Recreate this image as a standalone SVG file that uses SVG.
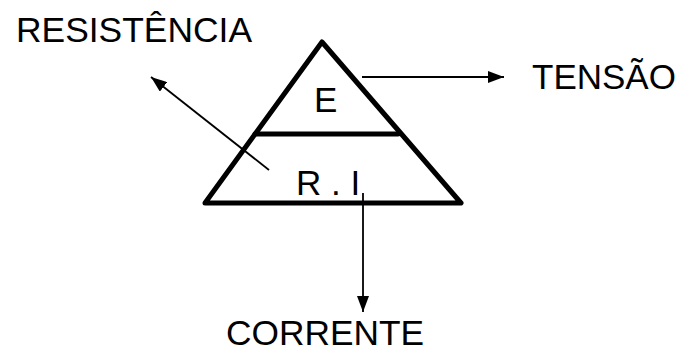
<svg xmlns="http://www.w3.org/2000/svg" width="683" height="351" viewBox="0 0 683 351">
<style>
text{font-family:"Liberation Sans",Arial,sans-serif;fill:#000;font-size:35px}
.shape{fill:none;stroke:#000;stroke-width:5;stroke-linejoin:round;stroke-linecap:round}
.conn{fill:none;stroke:#000;stroke-width:1.8}
</style>
<defs>
<marker id="ah" markerWidth="16" markerHeight="12" refX="16" refY="6" orient="auto" markerUnits="userSpaceOnUse">
<path d="M0,0 L16,6 L0,12 Z" fill="#000"/>
</marker>
</defs>
<rect width="683" height="351" fill="#fff"/>
<g id="triangle">
<path class="shape" d="M322,42 L461,203 L205,203 Z"/>
<line class="shape" x1="255" y1="134" x2="398" y2="134" stroke-linecap="butt"/>
</g>
<g id="node-E"><text x="314" y="112" font-size="34">E</text></g>
<g id="node-RI"><text x="296" y="195" font-size="34">R . I</text></g>
<g id="label-resistencia"><text x="16" y="42" textLength="236" lengthAdjust="spacingAndGlyphs">RESISTÊNCIA</text></g>
<g id="label-tensao"><text x="532" y="89" font-size="34.5">TENSÃO</text></g>
<g id="label-corrente"><text x="226" y="345" textLength="198" lengthAdjust="spacingAndGlyphs">CORRENTE</text></g>
<g id="connectors">
<line class="conn" x1="362" y1="77" x2="504" y2="77" marker-end="url(#ah)"/>
<line class="conn" x1="363" y1="193" x2="363" y2="312" marker-end="url(#ah)"/>
<line class="conn" x1="269" y1="170" x2="151" y2="77" marker-end="url(#ah)"/>
</g>
</svg>
